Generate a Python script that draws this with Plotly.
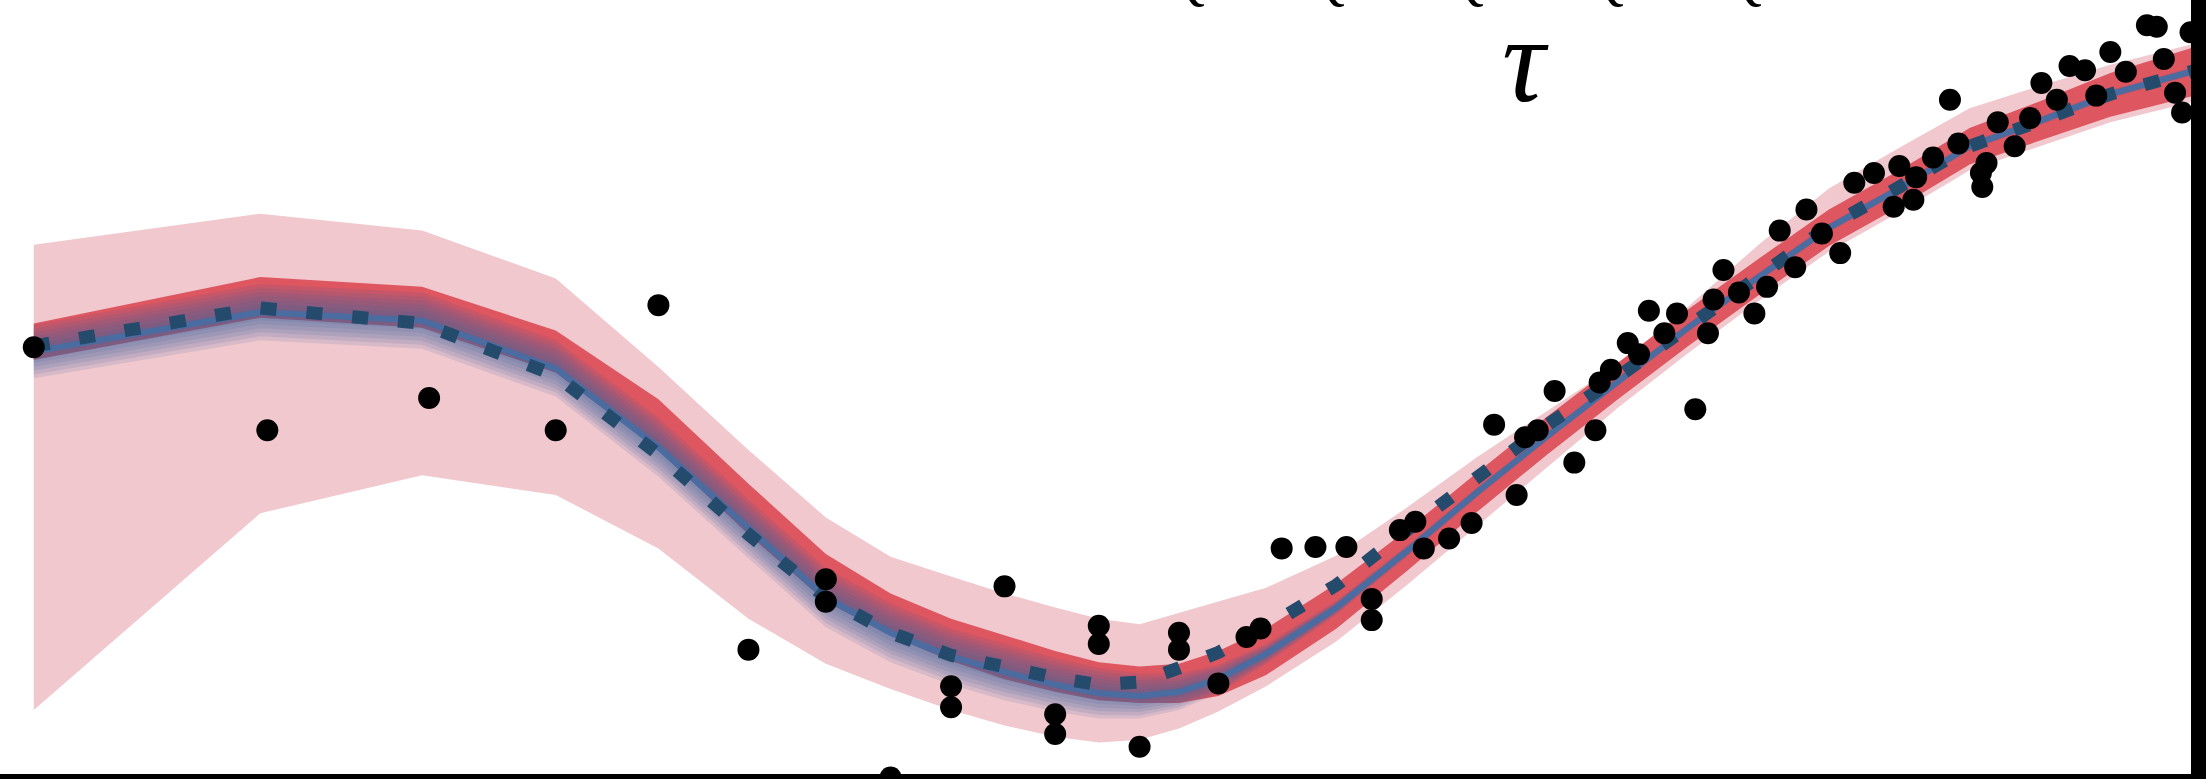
import plotly.graph_objects as go

# ---- curve grid (x) and band / line values (y) ----
grid_x = [0.24, 1.85, 3.00, 3.95, 4.68, 5.32, 5.87, 6.33, 6.76, 7.14, 7.50, 7.81, 8.10, 8.38,
          8.66, 9.00, 9.50, 10.00, 10.50, 11.00, 11.50, 12.00, 12.50, 13.00, 13.50, 14.00,
          14.50, 15.00, 15.68]

pink_upper = [3.80, 4.02, 3.90, 3.56, 2.93, 2.34, 1.86, 1.58, 1.44, 1.32, 1.22, 1.14, 1.10, 1.18,
              1.26, 1.36, 1.59, 1.93, 2.29, 2.62, 2.95, 3.36, 3.80, 4.20, 4.49, 4.77,
              4.93, 5.08, 5.25]
pink_lower = [0.49, 1.89, 2.16, 2.02, 1.64, 1.14, 0.82, 0.64, 0.49, 0.38, 0.30, 0.26, 0.28, 0.36,
              0.48, 0.66, 0.98, 1.38, 1.80, 2.22, 2.64, 3.03, 3.40, 3.75, 4.03, 4.33,
              4.50, 4.67, 4.84]

red_upper = [3.24, 3.57, 3.50, 3.19, 2.70, 2.10, 1.60, 1.32, 1.14, 1.02, 0.91, 0.83, 0.80, 0.82,
             0.91, 1.07, 1.39, 1.77, 2.18, 2.58, 2.96, 3.34, 3.70, 4.05, 4.33, 4.63,
             4.82, 5.02, 5.23]
red_lower = [2.98, 3.28, 3.21, 2.89, 2.34, 1.74, 1.26, 1.02, 0.84, 0.71, 0.62, 0.56, 0.54, 0.54,
             0.59, 0.74, 1.07, 1.48, 1.90, 2.31, 2.70, 3.08, 3.44, 3.79, 4.07, 4.37,
             4.54, 4.71, 4.88]

blue_mean = [3.04, 3.32, 3.26, 2.92, 2.36, 1.78, 1.29, 1.04, 0.87, 0.76, 0.67, 0.61, 0.59, 0.62,
             0.71, 0.89, 1.22, 1.62, 2.04, 2.44, 2.83, 3.21, 3.57, 3.92, 4.20, 4.50,
             4.68, 4.87, 5.06]
fan_halfwidth = [0.19, 0.20, 0.20, 0.20, 0.21, 0.21, 0.21, 0.21, 0.20, 0.20, 0.19, 0.18, 0.16, 0.13,
                 0.10, 0.07, 0.05, 0.04, 0.035, 0.03, 0.03, 0.03, 0.03, 0.03, 0.03, 0.03,
                 0.03, 0.03, 0.03]

truth = [3.08, 3.35, 3.24, 2.87, 2.31, 1.74, 1.29, 1.04, 0.88, 0.79, 0.72, 0.67, 0.69, 0.79,
         0.90, 1.08, 1.38, 1.77, 2.15, 2.52, 2.86, 3.22, 3.58, 3.93, 4.21, 4.50,
         4.68, 4.87, 5.06]

# ---- observed points ----
obs_x = [0.24, 1.90, 3.05, 3.95, 4.68, 5.32, 5.87, 5.87, 6.33, 6.76, 6.76, 7.14, 7.50, 7.50,
         7.81, 7.81, 8.10, 8.38, 8.38, 8.66, 8.86, 8.96, 9.11, 9.35, 9.57, 9.75, 9.75, 9.95,
         10.06, 10.12, 10.30, 10.46, 10.62, 10.78, 10.84, 10.93, 11.05, 11.19, 11.34, 11.37,
         11.45, 11.57, 11.65, 11.72, 11.83, 11.92, 12.05, 12.14, 12.18, 12.25, 12.36, 12.47,
         12.56, 12.65, 12.76, 12.84, 12.95, 13.08, 13.18, 13.32, 13.46, 13.50, 13.60, 13.62,
         13.74, 13.86, 13.92, 14.08, 14.09, 14.12, 14.20, 14.32, 14.43, 14.51, 14.62, 14.71,
         14.82, 14.90, 15.00, 15.11, 15.26, 15.33, 15.38, 15.46, 15.51, 15.57]
obs_y = [3.07, 2.48, 2.71, 2.48, 3.37, 0.92, 1.42, 1.26, 0.01, 0.66, 0.51, 1.37, 0.46, 0.32,
         1.09, 0.96, 0.23, 1.04, 0.92, 0.68, 1.01, 1.07, 1.64, 1.65, 1.65, 1.28, 1.13, 1.77,
         1.83, 1.64, 1.71, 1.82, 2.52, 2.02, 2.43, 2.48, 2.76, 2.25, 2.48, 2.82,
         2.91, 3.10, 3.02, 3.33, 3.17, 3.31, 2.63, 3.17, 3.41, 3.62, 3.46, 3.31,
         3.50, 3.90, 3.64, 4.05, 3.88, 3.74, 4.24, 4.31, 4.07, 4.36, 4.12, 4.28,
         4.42, 4.83, 4.52, 4.31, 4.21, 4.38, 4.67, 4.50, 4.70, 4.95, 4.83, 5.07,
         5.04, 4.86, 5.17, 5.03, 5.36, 5.35, 5.12, 4.88, 4.74, 5.31]

# ---- text ----
tau_label = "τ"
tau_x = 10.84
top_labels = ["Q", "Q", "Q", "Q", "Q"]
top_label_x = [8.46, 9.45, 10.44, 11.44, 12.42]

PINK = "rgb(240,200,206)"
RED = "rgb(222,86,96)"
BLUE_LINE = "rgb(74,108,160)"
FAN = "rgba(62,96,156,0.14)"
DASH = "rgb(36,74,108)"


def band(upper, lower, color):
    return go.Scatter(x=grid_x + grid_x[::-1], y=upper + lower[::-1], mode="lines",
                      fill="toself", fillcolor=color, line=dict(width=0),
                      hoverinfo="skip", showlegend=False)


fig = go.Figure()
fig.add_trace(band(pink_upper, pink_lower, PINK))
fig.add_trace(band(red_upper, red_lower, RED))

n_layers = 7
for k in range(n_layers, 0, -1):
    up = [m + h * k / n_layers for m, h in zip(blue_mean, fan_halfwidth)]
    lo = [m - h * k / n_layers for m, h in zip(blue_mean, fan_halfwidth)]
    fig.add_trace(band(up, lo, FAN))

fig.add_trace(go.Scatter(x=grid_x, y=blue_mean, mode="lines",
                         line=dict(color=BLUE_LINE, width=6), showlegend=False))
fig.add_trace(go.Scatter(x=grid_x, y=truth, mode="lines",
                         line=dict(color=DASH, width=13, dash="16px,30px"), showlegend=False))
fig.add_trace(go.Scatter(x=obs_x, y=obs_y, mode="markers",
                         marker=dict(color="black", size=22, line=dict(width=0)),
                         showlegend=False))

annotations = [dict(x=tau_x, xref="x", y=0.922, yref="paper", text="<i>" + tau_label + "</i>",
                    showarrow=False, xanchor="center", yanchor="middle",
                    font=dict(family="Liberation Serif", size=120, color="black"))]
for lbl, lx in zip(top_labels, top_label_x):
    annotations.append(dict(x=lx, xref="x", y=0.985, yref="paper", text="<i>" + lbl + "</i>",
                            showarrow=False, xanchor="center", yanchor="bottom",
                            font=dict(family="Liberation Serif", size=56, color="black")))

fig.update_layout(
    width=2206, height=779,
    margin=dict(l=0, r=0, t=0, b=0),
    paper_bgcolor="white", plot_bgcolor="white",
    xaxis=dict(range=[0, 15.68], visible=False),
    yaxis=dict(range=[0, 5.54], visible=False),
    annotations=annotations,
    hovermode=False,
    shapes=[
        dict(type="rect", xref="paper", yref="paper", x0=0.9932, x1=1.0, y0=0, y1=1,
             fillcolor="black", line=dict(width=0), layer="above"),
        dict(type="rect", xref="paper", yref="paper", x0=0, x1=1, y0=0, y1=0.0064,
             fillcolor="black", line=dict(width=0), layer="above"),
    ],
)

fig.write_html("out.html", config={"displayModeBar": False, "staticPlot": True},
               post_script="document.body.style.margin='0';document.body.style.overflow='hidden';")
